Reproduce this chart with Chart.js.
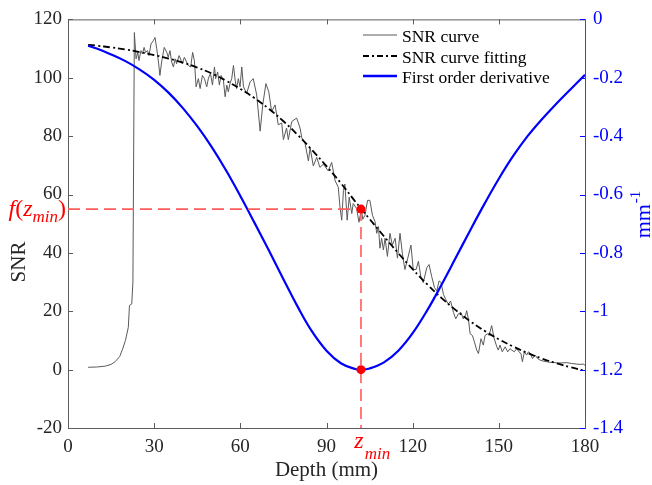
<!DOCTYPE html>
<html>
<head>
<meta charset="utf-8">
<script src="https://cdn.jsdelivr.net/npm/chart.js@4.4.0/dist/chart.umd.min.js"></script>
<style>
html,body{margin:0;padding:0;background:#ffffff;}
#wrap{width:652px;height:485px;}
</style>
</head>
<body>
<div id="wrap"><canvas id="c" width="652" height="485"></canvas></div>
<script>
// ---- tick labels ----
const xTicks = [0, 30, 60, 90, 120, 150, 180];
const snrTicks = [-20, 0, 20, 40, 60, 80, 100, 120];
const derivTicks = [0, -0.2, -0.4, -0.6, -0.8, -1, -1.2, -1.4];

// ---- measured SNR curve (depth in mm, SNR) ----
const snrDepth = [7,10,13,15,16.5,18,19,20,21,21.4,22.2,22.6,23.1,23.7,24.3,24.7,25.4,25.9,26.5,27.0,27.7,28.2,28.9,29.7,30.3,30.9,31.5,32.0,32.6,33.5,34.4,34.9,35.5,36.1,36.7,37.3,37.8,38.7,39.4,39.8,40.5,41.3,41.9,42.7,43.4,44.0,44.6,45.4,46.0,46.8,47.5,48.3,48.9,49.6,50.3,51.0,51.4,52.1,52.7,53.3,54.1,54.7,55.3,55.8,56.4,57.0,57.6,58.2,58.7,59.3,59.9,60.5,61.1,62.2,63.4,64.5,65.7,66.9,67.8,68.9,69.9,70.9,72.1,73.2,74.4,75.0,76.1,76.7,77.9,79.6,80.8,81.4,82.5,83.7,84.3,85.4,86.6,87.7,88.9,90.6,91.8,93.0,94.1,94.7,95.3,95.9,96.4,97.2,97.9,98.8,99.3,100.5,101.3,102.2,102.6,103.4,104.3,105.1,106.0,106.9,107.5,108.1,108.6,109.2,109.8,110.4,111.2,112.1,112.9,113.9,114.7,115.6,116.4,117.3,118.3,119.4,120.2,121.2,122.0,122.9,123.7,124.9,125.7,126.6,127.6,128.4,129.2,129.9,130.7,131.5,132.4,133.2,134.2,135.0,135.9,136.8,137.6,138.4,138.8,139.4,140.0,140.8,141.5,142.3,142.9,143.8,144.6,145.2,146.1,146.6,147.5,148.4,149.3,149.8,150.4,151.2,152.2,153.1,153.9,154.5,155.4,156.2,157.0,157.7,158.2,158.9,159.7,160.3,161.0,161.7,162.6,163.5,164.3,165.5,166.7,167.8,169.0,170.1,171.9,173.6,175.4,177.1,178.3,179.4,180.0];
const snrValue = [0.8,0.9,1.2,1.8,2.8,4.5,7.0,10.0,14.5,22.0,22.5,30.0,115.5,106.5,108.7,105.9,109.3,108.2,110.4,108.7,109.3,107.6,111.6,112.7,113.8,109.9,105.4,100.8,105.4,110.4,108.7,107.0,109.3,105.4,103.7,106.5,104.8,107.6,105.9,104.8,107.0,105.4,104.2,103.7,108.7,105.9,96.9,99.7,96.3,100.8,99.7,96.9,99.9,101.4,97.5,103.7,99.7,102.0,97.5,100.8,99.2,93.5,97.5,95.2,98.0,99.7,104.2,99.2,96.3,99.7,96.9,103.7,96.9,94.6,98.6,99.7,94.1,81.7,90.7,98.0,95.2,88.4,90.7,83.9,84.5,78.8,82.8,78.8,85.0,86.2,82.8,79.4,77.7,71.5,76.0,69.8,72.7,69.3,70.4,68.1,71.0,64.7,62.5,55.7,51.2,61.4,63.6,51.2,59.1,53.5,56.9,55.2,50.5,55.2,51.5,52.9,58.0,58.0,52.9,50.7,46.7,49.0,41.6,45.0,41.0,45.0,38.8,46.7,42.7,45.0,38.2,46.7,39.9,34.3,38.2,42.7,34.3,34.3,37.1,31.5,29.8,34.9,36.0,32.0,28.1,27.0,30.4,29.8,25.8,24.1,22.4,23.5,19.6,17.4,19.1,19.6,17.4,18.5,20.2,17.4,12.3,11.7,9.5,6.7,5.5,10.6,8.4,11.7,12.3,11.7,15.1,10.6,7.8,6.7,8.4,6.1,7.8,6.1,7.2,6.7,6.1,7.2,6.1,5.5,2.7,6.1,5.0,6.1,5.5,3.8,5.0,3.8,3.3,2.9,2.7,2.5,2.5,2.3,2.3,2.4,2.1,1.9,1.8,1.9,1.5];

// ---- fitted SNR curve and its first-order derivative ----
const fitDepth = [7,10,15,20,25,30,35,40,45,50,55,60,65,70,75,80,85,90,95,100,102,105,110,115,120,125,130,135,140,145,150,155,160,165,170,175,180];
const fitValue = [111.3,111.0,110.4,109.7,108.8,107.8,106.6,105.2,103.5,101.5,99.0,96.2,93.0,89.3,85.1,80.4,75.2,69.7,63.9,57.6,55.2,51.6,45.7,39.9,34.4,29.3,24.6,20.4,16.6,13.3,10.4,7.9,5.7,3.8,2.2,0.8,-0.4];
const derivValue = [-0.09,-0.10,-0.12,-0.143,-0.172,-0.207,-0.251,-0.304,-0.366,-0.437,-0.517,-0.605,-0.698,-0.793,-0.89,-0.985,-1.07,-1.135,-1.178,-1.198,-1.2,-1.196,-1.175,-1.135,-1.075,-0.998,-0.91,-0.817,-0.723,-0.632,-0.546,-0.468,-0.40,-0.342,-0.289,-0.239,-0.19];

// ---- marked minimum ----
const zMin = 102;
const fZMin = 55;
const derivMin = -1.2;

const SERIF = "'Liberation Serif', 'Times New Roman', serif";
const AXIS_GRAY = '#5c5c5c';
const BLUE = '#0000ff';
const RED = '#ff0000';
const RED_DASH = '#ff5c5c';

const pts = (xs, ys) => xs.map((x, i) => ({x: x, y: ys[i]}));

const decor = {
  id: 'decor',
  afterDraw(chart) {
    const {ctx, chartArea: a, scales} = chart;
    ctx.save();
    const seg = (x1, y1, x2, y2) => { ctx.beginPath(); ctx.moveTo(x1, y1); ctx.lineTo(x2, y2); ctx.stroke(); };
    // top border
    ctx.lineWidth = 1;
    ctx.strokeStyle = AXIS_GRAY;
    seg(a.left, a.top + 0.5, a.right, a.top + 0.5);
    // inward ticks
    const tl = 5;
    scales.x.ticks.forEach(t => {
      const p = Math.round(scales.x.getPixelForValue(t.value)) + 0.5;
      seg(p, a.bottom, p, a.bottom - tl);
      seg(p, a.top, p, a.top + tl);
    });
    scales.y.ticks.forEach(t => {
      const p = Math.round(scales.y.getPixelForValue(t.value)) + 0.5;
      seg(a.left, p, a.left + tl, p);
    });
    ctx.strokeStyle = BLUE;
    scales.y2.ticks.forEach(t => {
      const p = Math.round(scales.y2.getPixelForValue(t.value)) + 0.5;
      seg(a.right, p, a.right - tl, p);
    });

    // legend
    const lx1 = 363, lx2 = 397, tx = 402;
    const rows = [
      {text: 'SNR curve', color: '#5a5a5a', width: 1, dash: [], base: 41.5},
      {text: 'SNR curve fitting', color: '#000000', width: 1.8, dash: [6, 3, 2, 3], base: 62.5},
      {text: 'First order derivative', color: BLUE, width: 2.4, dash: [], base: 82.5}
    ];
    ctx.font = '17.5px ' + SERIF;
    ctx.textBaseline = 'alphabetic';
    ctx.textAlign = 'left';
    rows.forEach(r => {
      ctx.strokeStyle = r.color; ctx.lineWidth = r.width; ctx.setLineDash(r.dash);
      seg(lx1, r.base - 6.5, lx2, r.base - 6.5);
      ctx.setLineDash([]);
      ctx.fillStyle = '#000000';
      ctx.fillText(r.text, tx, r.base);
    });

    // x title
    ctx.fillStyle = '#262626';
    ctx.font = '21px ' + SERIF;
    ctx.textAlign = 'center';
    ctx.fillText('Depth (mm)', (a.left + a.right) / 2, 476);

    // left title
    ctx.save();
    ctx.translate(25, 262);
    ctx.rotate(-Math.PI / 2);
    ctx.fillText('SNR', 0, 0);
    ctx.restore();

    // right title mm^-1
    ctx.save();
    ctx.fillStyle = BLUE;
    ctx.translate(650, 215);
    ctx.rotate(-Math.PI / 2);
    ctx.textAlign = 'left';
    ctx.font = '22px ' + SERIF;
    const wm = ctx.measureText('mm').width;
    ctx.font = '15px ' + SERIF;
    const ws = ctx.measureText('-1').width;
    const x0 = -(wm + ws) / 2;
    ctx.font = '22px ' + SERIF;
    ctx.fillText('mm', x0, 0);
    ctx.font = '15px ' + SERIF;
    ctx.fillText('-1', x0 + wm + 1, -10);
    ctx.restore();

    // f(z_min) label
    ctx.fillStyle = RED;
    ctx.textAlign = 'left';
    const mainF = 'italic 24px ' + SERIF, subF = 'italic 17px ' + SERIF, upF = '24px ' + SERIF;
    const parts = [
      {t: 'f', f: mainF, dy: 0},
      {t: '(', f: upF, dy: 0},
      {t: 'z', f: mainF, dy: 0},
      {t: 'min', f: subF, dy: 6},
      {t: ')', f: upF, dy: 0}
    ];
    let total = 0;
    parts.forEach(p => { ctx.font = p.f; p.w = ctx.measureText(p.t).width; total += p.w; });
    let cx = 66 - total;
    const yb = scales.y.getPixelForValue(fZMin) + 7;
    parts.forEach(p => { ctx.font = p.f; ctx.fillText(p.t, cx, yb + p.dy); cx += p.w; });

    // z_min label under axis
    const zx = scales.x.getPixelForValue(zMin);
    ctx.font = mainF;
    const wz = ctx.measureText('z').width;
    ctx.fillText('z', zx - wz / 2 - 2, 448);
    ctx.font = subF;
    ctx.fillText('min', zx - wz / 2 - 2 + wz + 1, 459);

    ctx.restore();
  }
};

new Chart(document.getElementById('c'), {
  type: 'line',
  data: {
    datasets: [
      {label: 'f(zmin) point', data: [{x: zMin, y: fZMin}], yAxisID: 'y', showLine: false,
       pointRadius: 4.5, pointBackgroundColor: RED, pointBorderWidth: 0, order: 0},
      {label: 'derivative minimum', data: [{x: zMin, y: derivMin}], yAxisID: 'y2', showLine: false,
       pointRadius: 4.5, pointBackgroundColor: RED, pointBorderWidth: 0, order: 0},
      {label: 'guide h', data: [{x: 0, y: fZMin}, {x: zMin, y: fZMin}], yAxisID: 'y',
       borderColor: RED_DASH, borderWidth: 1.6, borderDash: [12, 6], pointRadius: 0, order: 1},
      {label: 'guide v', data: [{x: zMin, y: fZMin}, {x: zMin, y: -20}], yAxisID: 'y',
       borderColor: RED_DASH, borderWidth: 1.6, borderDash: [12, 6], pointRadius: 0, order: 1},
      {label: 'First order derivative', data: pts(fitDepth, derivValue), yAxisID: 'y2',
       borderColor: BLUE, borderWidth: 2.2, pointRadius: 0, tension: 0.4, order: 2},
      {label: 'SNR curve fitting', data: pts(fitDepth, fitValue), yAxisID: 'y',
       borderColor: '#000000', borderWidth: 1.8, borderDash: [7, 3, 2, 3], pointRadius: 0,
       tension: 0.4, order: 3},
      {label: 'SNR curve', data: pts(snrDepth, snrValue), yAxisID: 'y',
       borderColor: '#5a5a5a', borderWidth: 1, pointRadius: 0, tension: 0, order: 4}
    ]
  },
  options: {
    responsive: false,
    devicePixelRatio: 1,
    animation: false,
    events: [],
    layout: {padding: {top: 14, left: 0, right: 0, bottom: 0}},
    plugins: {legend: {display: false}, tooltip: {enabled: false}, title: {display: false}},
    scales: {
      x: {
        type: 'linear', position: 'bottom', min: 0, max: 180,
        afterBuildTicks: s => { s.ticks = xTicks.map(v => ({value: v})); },
        afterFit: s => { s.height = 57; },
        grid: {display: false, drawTicks: false},
        border: {display: true, color: AXIS_GRAY, width: 1},
        ticks: {padding: 8, color: '#262626', font: {family: SERIF, size: 19}, maxRotation: 0, autoSkip: false,
                callback: v => String(v)}
      },
      y: {
        type: 'linear', position: 'left', min: -20, max: 120,
        afterBuildTicks: s => { s.ticks = snrTicks.map(v => ({value: v})); },
        afterFit: s => { s.width = 68; },
        grid: {display: false, drawTicks: false},
        border: {display: true, color: AXIS_GRAY, width: 1},
        ticks: {padding: 6, color: '#262626', font: {family: SERIF, size: 19}, autoSkip: false,
                callback: v => String(v)}
      },
      y2: {
        type: 'linear', position: 'right', min: -1.4, max: 0,
        afterBuildTicks: s => { s.ticks = derivTicks.map(v => ({value: v})); },
        afterFit: s => { s.width = 67; },
        grid: {display: false, drawTicks: false},
        border: {display: true, color: '#3c3cff', width: 1},
        ticks: {padding: 8, color: BLUE, font: {family: SERIF, size: 19}, autoSkip: false,
                callback: v => String(Number(Number(v).toFixed(1)))}
      }
    }
  },
  plugins: [decor]
});
</script>
</body>
</html>
